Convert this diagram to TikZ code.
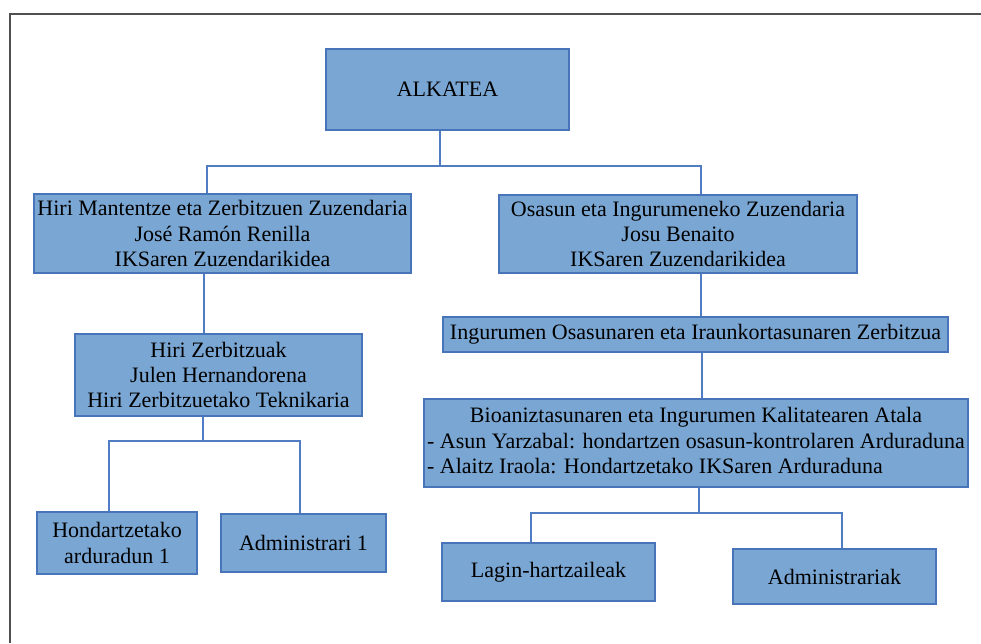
\documentclass[tikz,border=0pt]{standalone}
\usepackage{fontspec}
\setmainfont{Liberation Serif}
\definecolor{boxfill}{RGB}{122,166,211}
\definecolor{boxline}{RGB}{72,116,186}
\definecolor{connc}{RGB}{80,124,196}
\definecolor{framec}{RGB}{80,80,80}
\tikzset{
  orgbox/.style={draw=boxline, fill=boxfill, line width=1.2pt, inner sep=0pt,
    align=center, font=\fontsize{22}{25.3}\selectfont, text=black},
  conn/.style={draw=connc, line width=1.1pt},
}
\begin{document}
\begin{tikzpicture}[x=1pt,y=-1pt]
\useasboundingbox (0,0) rectangle (981,643);
\draw[framec, line width=1.5pt] (10,643) -- (10,14) -- (981,14);

\node[orgbox, minimum width=243pt, minimum height=81pt] (alk) at (447.5,89.5) {ALKATEA};
\node[orgbox, minimum width=377pt, minimum height=79pt] (l1) at (222.5,233.5)
  {Hiri Mantentze eta Zerbitzuen Zuzendaria\\José Ramón Renilla\\IKSaren Zuzendarikidea};
\node[orgbox, minimum width=358pt, minimum height=78pt] (r1) at (678,234)
  {Osasun eta Ingurumeneko Zuzendaria\\Josu Benaito\\IKSaren Zuzendarikidea};
\node[orgbox, minimum width=287pt, minimum height=82pt] (l2) at (218.5,375)
  {Hiri Zerbitzuak\\Julen Hernandorena\\Hiri Zerbitzuetako Teknikaria};
\node[orgbox, minimum width=505pt, minimum height=35pt] (r2) at (695.5,334.5)
  {Ingurumen Osasunaren eta Iraunkortasunaren Zerbitzua};
\node[orgbox, minimum width=544pt, minimum height=88pt] (r3) at (696,443)
  {\begin{tabular}{@{}l@{}}\multicolumn{1}{@{}c@{}}{Bioaniztasunaren eta Ingurumen Kalitatearen Atala}\\
   - Asun Yarzabal: hondartzen osasun-kontrolaren Arduraduna\\
   - Alaitz Iraola: Hondartzetako IKSaren Arduraduna\end{tabular}};
\node[orgbox, minimum width=160pt, minimum height=62pt] (l3a) at (117,543)
  {Hondartzetako\\arduradun 1};
\node[orgbox, minimum width=165pt, minimum height=58pt] (l3b) at (303.5,543)
  {Administrari 1};
\node[orgbox, minimum width=213pt, minimum height=58pt] (la) at (548.5,572)
  {Lagin-hartzaileak};
\node[orgbox, minimum width=203pt, minimum height=55pt] (ad) at (834.5,576.5)
  {Administrariak};

% connectors
\coordinate (j1) at (440,166);
\coordinate (j1l) at (207,166);
\coordinate (j1r) at (701,166);
\draw[conn] (alk.south -| j1) -- (j1);
\draw[conn] (l1.north -| j1l) -- (j1l) -- (j1r) -- (r1.north -| j1r);

\coordinate (c1) at (204,300);
\draw[conn] (l1.south -| c1) -- (l2.north -| c1);

\coordinate (j2) at (203,441);
\coordinate (j2l) at (109,441);
\coordinate (j2r) at (300,441);
\draw[conn] (l2.south -| j2) -- (j2);
\draw[conn] (l3a.north -| j2l) -- (j2l) -- (j2r) -- (l3b.north -| j2r);

\coordinate (c2) at (701,300);
\draw[conn] (r1.south -| c2) -- (r2.north -| c2);
\coordinate (c3) at (702,380);
\draw[conn] (r2.south -| c3) -- (r3.north -| c3);

\coordinate (j3) at (699,513);
\coordinate (j3l) at (531,513);
\coordinate (j3r) at (842,513);
\draw[conn] (r3.south -| j3) -- (j3);
\draw[conn] (la.north -| j3l) -- (j3l) -- (j3r) -- (ad.north -| j3r);
\end{tikzpicture}
\end{document}
